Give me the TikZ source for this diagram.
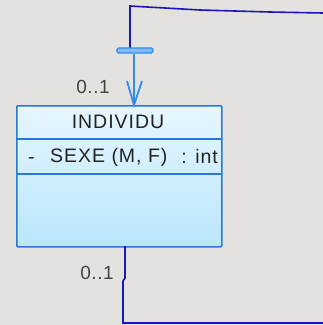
\documentclass[tikz,border=0pt]{standalone}
\usepackage{fontspec}
\setmainfont{Liberation Sans}
\usetikzlibrary{arrows.meta}
\definecolor{bgc}{RGB}{228,226,222}
\definecolor{darkln}{RGB}{24,24,190}
\definecolor{lightln}{RGB}{50,140,235}
\definecolor{boxborder}{RGB}{40,120,215}
\definecolor{filltop}{RGB}{230,246,255}
\definecolor{fillbot}{RGB}{185,230,252}
\definecolor{txt}{RGB}{35,35,35}
\tikzset{
  darkline/.style={draw=darkln, line width=1.6bp},
  lightline/.style={draw=lightln, line width=1.8bp},
  classbox/.style={draw=boxborder, line width=1.6bp, top color=filltop, bottom color=fillbot, rounded corners=1bp},
  sep/.style={draw=boxborder, line width=1.4bp},
  lbl/.style={font=\fontsize{19.5bp}{22bp}\selectfont\addfontfeature{LetterSpace=5}, text=txt, inner sep=0pt},
  mult/.style={font=\fontsize{19bp}{21bp}\selectfont\addfontfeature{LetterSpace=3}, text=txt!85, inner sep=0pt}
}
\begin{document}
\begin{tikzpicture}[x=1bp,y=-1bp]
\fill[bgc] (0,0) rectangle (323,325);
\useasboundingbox (0,0) rectangle (323,325);
% class box
\node[classbox, minimum width=205bp, minimum height=141bp, anchor=north west, inner sep=0pt] (box) at (16,105) {};
\coordinate (s1l) at (16,139); \coordinate (s1r) at (221,139);
\coordinate (s2l) at (16,174); \coordinate (s2r) at (221,174);
\draw[sep] (s1l) -- (s1r);
\draw[sep] (s2l) -- (s2r);
\node[lbl] (title) at (118,122) {INDIVIDU};
\node[lbl, anchor=west] (vis) at (28,161) {-};
\node[lbl, anchor=west] (attr) at (50,157) {SEXE (M, F)};
\node[lbl, anchor=east] (typ) at (218,157) {: int};
% top connector
\coordinate (tr) at (323,13);
\coordinate (tl) at (130,6);
\coordinate (tb) at (130,48);
\draw[darkline] (tr) -- (270,12) -- (200,10) -- (tl) -- (tb);
\node[draw=lightln, fill=lightln!60, line width=1.2bp, rounded corners=1.5bp, minimum width=36bp, minimum height=5bp, inner sep=0pt] (bar) at (135,50.5) {};
\coordinate (tip) at (134,105);
\draw[lightline] (bar.south -| tip) -- (tip);
\coordinate (al) at (127,81); \coordinate (ar) at (142,81);
\draw[lightline, line join=miter] (al) -- (tip) -- (ar);
\node[mult] (m1) at (93,87) {0..1};
% bottom connector
\coordinate (bb) at (125,246);
\coordinate (bm) at (125,278);
\coordinate (bc) at (123,281);
\coordinate (bl) at (123,323);
\coordinate (br) at (323,323);
\draw[darkline] (bb) -- (bm) -- (bc) -- (bl) -- (br);
\node[mult] (m2) at (97,273) {0..1};
\end{tikzpicture}
\end{document}
